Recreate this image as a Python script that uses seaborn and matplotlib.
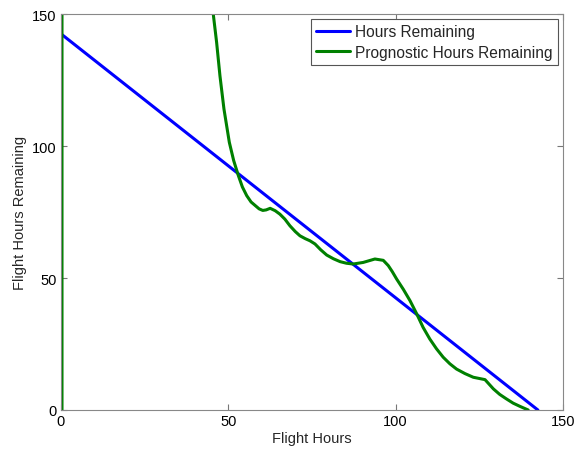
import matplotlib
matplotlib.use("Agg")
import matplotlib.pyplot as plt
import seaborn as sns
import pandas as pd

sns.set_style("white")
plt.rcParams["font.family"] = ["Liberation Sans", "DejaVu Sans"]

# Actual remaining flight hours
hours_x = [0.0, 142.5]
hours_y = [142.5, 0.0]

# Prognostic estimate of remaining hours
prog_x = [0.3, 0.3, 38.0, 42.0, 43.5, 44.5, 45.5, 46.5, 47.5, 48.7, 50.3, 51.6,
          53.0, 54.2, 55.5, 56.8, 58.0, 59.2, 60.3, 61.3, 62.5, 64.0,
          65.4, 66.9, 68.4, 70.0, 71.4, 73.0, 74.4, 75.9, 77.6, 79.4, 81.4, 83.4,
          85.3, 87.3, 90.3, 93.8, 96.3, 97.8, 99.0, 100.3, 102.3, 104.3, 106.3,
          108.2, 110.2, 112.2, 114.2, 116.2, 118.2, 120.7, 123.2, 126.7, 129.2,
          131.1, 133.1, 135.1, 137.1, 139.6]
prog_y = [0.0, 400.0, 400.0, 200.0, 175.0, 162.0, 150.0, 139.3, 126.6, 114.0, 101.4, 94.5,
          88.8, 84.5, 81.2, 78.8, 77.5, 76.2, 75.6, 75.8, 76.4, 75.5,
          74.2, 72.3, 69.8, 67.6, 66.0, 64.9, 64.1, 62.9, 60.7, 58.7, 57.3, 56.2,
          55.6, 55.3, 55.9, 57.2, 56.7, 54.7, 52.4, 49.6, 45.7, 41.4, 36.4,
          31.3, 26.9, 23.2, 20.0, 17.5, 15.5, 13.8, 12.4, 11.5, 8.0,
          5.9, 4.2, 2.6, 1.4, 0.0]

ticks = [0, 50, 100, 150]

hours_df = pd.DataFrame({"Flight Hours": hours_x, "Remaining": hours_y})
prog_df = pd.DataFrame({"Flight Hours": prog_x, "Remaining": prog_y})

fig = plt.figure(figsize=(5.77, 4.56), dpi=100)
ax = fig.add_axes([0.1057, 0.0987, 0.8700, 0.8683])

sns.lineplot(data=hours_df, x="Flight Hours", y="Remaining", ax=ax, color=(0, 0, 1),
             lw=2.2, sort=False, estimator=None, label="Hours Remaining")
sns.lineplot(data=prog_df, x="Flight Hours", y="Remaining", ax=ax, color=(0, 0.5, 0),
             lw=2.2, sort=False, estimator=None, label="Prognostic Hours Remaining")

ax.set_xlim(0, 150)
ax.set_ylim(0, 150)
ax.set_xticks(ticks)
ax.set_yticks(ticks)
ax.tick_params(direction="in", length=4, width=0.8, colors="#777777",
               labelcolor="black", labelsize=10.5, top=True, right=True,
               bottom=True, left=True, pad=3)
for s in ax.spines.values():
    s.set_color("#888888")
    s.set_linewidth(0.8)
ax.set_xlabel("Flight Hours", fontsize=10.5, labelpad=2)
ax.set_ylabel("Flight Hours Remaining", fontsize=10.5, labelpad=4)

leg = ax.legend(loc="upper right", fontsize=11.2, frameon=True, fancybox=False,
                edgecolor="#555555", framealpha=1, borderpad=0.3, labelspacing=0.37,
                handlelength=2.2, handletextpad=0.33, borderaxespad=0.35)
leg.get_frame().set_linewidth(0.8)

fig.savefig("out.png", dpi=100)
